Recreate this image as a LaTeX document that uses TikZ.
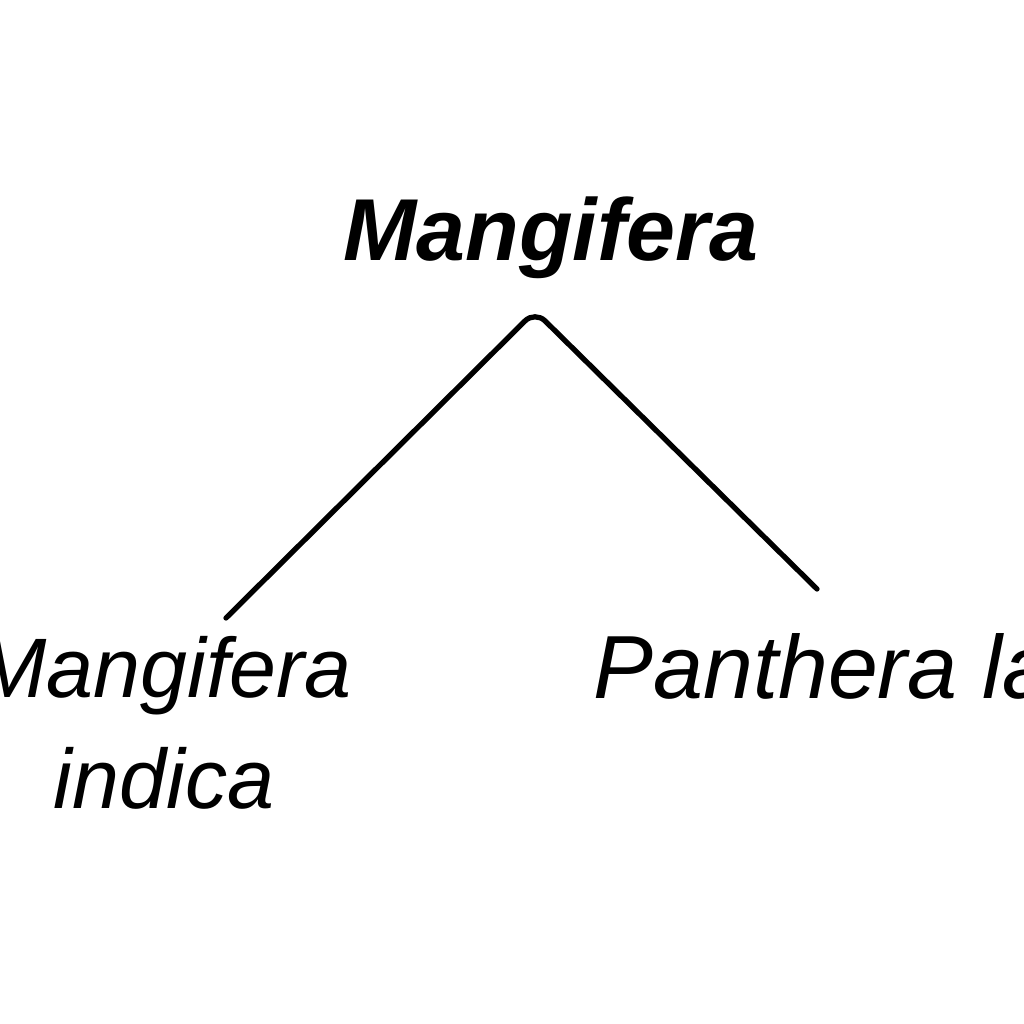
\documentclass[tikz,border=0pt]{standalone}
\usepackage{fontspec}
\setmainfont{Liberation Sans}

\tikzset{
  taxon/.style={inner sep=0pt,font=\fontsize{24}{31.5}\selectfont\itshape},
  branch/.style={line width=1.5pt,line cap=round,rounded corners=4pt}
}

\begin{document}
\begin{tikzpicture}[x=0.01cm,y=-0.01cm]
\useasboundingbox (0,0) rectangle (1024,1024);
\clip (0,0) rectangle (1024,1024);
% genus on top
\node[taxon,font=\fontsize{25}{30}\selectfont\itshape\bfseries,anchor=base] (genus) at (551,260) {Mangifera};
% the two species
\node[taxon,anchor=base,align=center] (mango) at (164,808) {Mangifera\\indica};
\node[taxon,font=\fontsize{25.5}{31.5}\selectfont\itshape,anchor=base west] (lion) at (593,698) {Panthera la};
% branches
\coordinate (apex) at (535,311);
\coordinate (leftend) at (226,618);
\coordinate (rightend) at (817,589);
\draw[branch] (leftend) -- (apex) -- (rightend);
\end{tikzpicture}
\end{document}
